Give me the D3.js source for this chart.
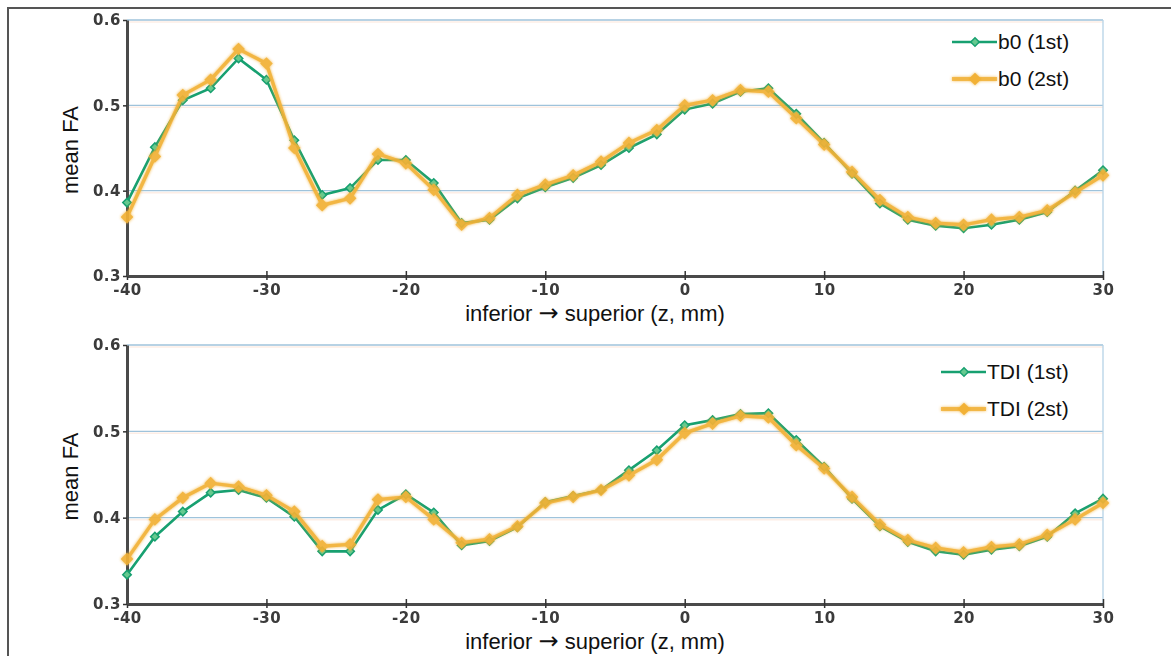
<!DOCTYPE html>
<html>
<head>
	<meta charset="utf-8">
	<script src="https://cdn.jsdelivr.net/npm/d3@7/dist/d3.min.js"></script>
	<style>
		html, body {
			padding: 0;
			margin: 0;
			background: white;
		}
		.tick-label {
			font: bold 15px "DejaVu Sans", sans-serif;
			letter-spacing: 0.5px;
			fill: #3a3a3a;
		}
		.title {
			font: 21px "Liberation Sans", Arial, sans-serif;
			fill: #111;
		}
		.axis-title {
			font-size: 22px;
		}
		.arrow {
			font-family: "DejaVu Sans", sans-serif;
			font-size: 24px;
		}
	</style>
</head>
<body>
	<div id="chart"></div>

	<script>
		// slice position, every 2 mm
		var zValues = [-40, -38, -36, -34, -32, -30, -28, -26, -24, -22, -20, -18,
			-16, -14, -12, -10, -8, -6, -4, -2, 0, 2, 4, 6, 8, 10, 12, 14, 16, 18,
			20, 22, 24, 26, 28, 30];

		var b0First = [0.386, 0.451, 0.506, 0.520, 0.555, 0.530, 0.459, 0.395, 0.403, 0.436, 0.436, 0.409,
			0.362, 0.366, 0.391, 0.404, 0.415, 0.430, 0.450, 0.466, 0.495, 0.502, 0.516, 0.520, 0.490, 0.456,
			0.420, 0.385, 0.366, 0.359, 0.356, 0.360, 0.366, 0.375, 0.400, 0.424];
		var b0Second = [0.369, 0.440, 0.512, 0.530, 0.566, 0.549, 0.450, 0.383, 0.391, 0.443, 0.432, 0.401,
			0.360, 0.368, 0.395, 0.407, 0.418, 0.434, 0.456, 0.471, 0.500, 0.506, 0.518, 0.516, 0.485, 0.454,
			0.422, 0.389, 0.369, 0.362, 0.360, 0.366, 0.369, 0.377, 0.398, 0.418];

		var tdiFirst = [0.334, 0.378, 0.407, 0.429, 0.432, 0.423, 0.401, 0.361, 0.361, 0.409, 0.427, 0.406,
			0.368, 0.373, 0.389, 0.418, 0.425, 0.432, 0.455, 0.478, 0.507, 0.513, 0.520, 0.521, 0.490, 0.459,
			0.422, 0.390, 0.372, 0.361, 0.357, 0.363, 0.367, 0.378, 0.405, 0.422];
		var tdiSecond = [0.352, 0.398, 0.423, 0.440, 0.436, 0.426, 0.407, 0.367, 0.369, 0.421, 0.424, 0.398,
			0.371, 0.375, 0.390, 0.417, 0.424, 0.432, 0.449, 0.467, 0.498, 0.509, 0.518, 0.516, 0.484, 0.457,
			0.424, 0.392, 0.374, 0.365, 0.360, 0.366, 0.369, 0.380, 0.398, 0.417];

		var xTicks = [-40, -30, -20, -10, 0, 10, 20, 30];
		var yTicks = [0.3, 0.4, 0.5, 0.6];
		var xTitle = ["inferior ", "→", " superior (z, mm)"];
		var yTitle = "mean FA";

		var width = 1171, height = 656;
		var green = "#17a070", greenFill = "#66c98f", orange = "#f2b136";

		var svg = d3.select("#chart").append("svg")
			.attr("width", width)
			.attr("height", height);

		var defs = svg.append("defs");
		var glow = defs.append("filter").attr("id", "glow")
			.attr("x", "-20%").attr("y", "-20%").attr("width", "140%").attr("height", "140%");
		glow.append("feGaussianBlur").attr("in", "SourceGraphic").attr("stdDeviation", 1.6).attr("result", "b");
		var fm = glow.append("feMerge");
		fm.append("feMergeNode").attr("in", "b");
		fm.append("feMergeNode").attr("in", "SourceGraphic");

		var soft = defs.append("filter").attr("id", "soft");
		soft.append("feGaussianBlur").attr("stdDeviation", 0.5);

		// page frame: top and left only
		svg.append("path")
			.attr("d", "M8,656 L8,8 L1171,8")
			.attr("fill", "none")
			.attr("stroke", "#555")
			.attr("stroke-width", 2);

		var x = d3.scaleLinear().domain([-40, 30]).range([127, 1103]);

		// rotated square, like the original markers
		var diamond = d3.symbol().type(d3.symbolSquare);
		function place(cx, cy) { return "translate(" + cx + "," + cy + ") rotate(45)"; }

		function panel(top, bottom, first, second, names, legendX, legendY) {
			var y = d3.scaleLinear().domain([0.3, 0.6]).range([bottom, top]);
			var g = svg.append("g");

			// grid
			g.selectAll(".gs").data(yTicks.slice(1)).enter().append("line")
				.attr("x1", x(-40)).attr("x2", x(30))
				.attr("y1", function(d) { return y(d) + 2; })
				.attr("y2", function(d) { return y(d) + 2; })
				.attr("stroke", "#fdeee6").attr("stroke-width", 1.5);
			g.selectAll(".gl").data(yTicks.slice(1)).enter().append("line")
				.attr("x1", x(-40)).attr("x2", x(30))
				.attr("y1", function(d) { return y(d); })
				.attr("y2", function(d) { return y(d); })
				.attr("stroke", "#9fc3db").attr("stroke-width", 1.4);
			g.append("line")
				.attr("x1", x(30)).attr("x2", x(30))
				.attr("y1", y(0.6)).attr("y2", y(0.3))
				.attr("stroke", "#b5d3e6").attr("stroke-width", 1.3);

			// axes
			var xAxis = d3.axisBottom(x).tickValues(xTicks).tickSize(4).tickSizeOuter(0)
				.tickFormat(function(d) { return String(d); });
			var gx = g.append("g").attr("transform", "translate(0," + bottom + ")").call(xAxis);
			gx.select(".domain").attr("stroke", "#4a4a4a").attr("stroke-width", 3);
			gx.selectAll(".tick line").attr("stroke", "#333").attr("stroke-width", 1.5).attr("y1", -5);
			gx.selectAll(".tick text").attr("class", "tick-label").attr("y", 7).attr("dy", "0.8em")
				.attr("filter", "url(#soft)");

			var yAxis = d3.axisLeft(y).tickValues(yTicks).tickSize(4).tickSizeOuter(0)
				.tickFormat(d3.format(".1f"));
			var gy = g.append("g").attr("transform", "translate(" + x(-40) + ",0)").call(yAxis);
			gy.select(".domain").attr("stroke", "#4a4a4a").attr("stroke-width", 3);
			gy.selectAll(".tick line").attr("stroke", "#333").attr("stroke-width", 1.5);
			gy.selectAll(".tick text").attr("class", "tick-label").attr("x", -6)
				.attr("filter", "url(#soft)");

			// titles
			var xt = g.append("text").attr("class", "title axis-title")
				.attr("x", 595).attr("y", bottom + 45)
				.attr("text-anchor", "middle");
			xt.selectAll("tspan").data(xTitle).enter().append("tspan")
				.attr("class", function(d, i) { return i === 1 ? "arrow" : null; })
				.text(function(d) { return d; });
			g.append("text").attr("class", "title axis-title")
				.attr("transform", "translate(78," + ((top + bottom) / 2 + 2) + ") rotate(-90)")
				.attr("text-anchor", "middle").text(yTitle);

			var line = d3.line()
				.x(function(d) { return x(d[0]); })
				.y(function(d) { return y(d[1]); });

			var s1 = d3.zip(zValues, first), s2 = d3.zip(zValues, second);

			// 1st run, green
			g.append("path").datum(s1)
				.attr("d", line).attr("fill", "none")
				.attr("stroke", green).attr("stroke-width", 2.6);
			g.selectAll(".m1").data(s1).enter().append("path")
				.attr("d", diamond.size(36))
				.attr("transform", function(d) { return place(x(d[0]), y(d[1])); })
				.attr("fill", greenFill).attr("stroke", green).attr("stroke-width", 1.5);

			// 2nd run, orange with glow
			var og = g.append("g").attr("filter", "url(#glow)").attr("opacity", 0.93);
			og.append("path").datum(s2)
				.attr("d", line).attr("fill", "none")
				.attr("stroke", orange).attr("stroke-width", 3.4);
			og.selectAll(".m2").data(s2).enter().append("path")
				.attr("d", diamond.size(80))
				.attr("transform", function(d) { return place(x(d[0]), y(d[1])); })
				.attr("fill", orange);

			// legend
			var lg = g.append("g");
			lg.append("line").attr("x1", legendX).attr("x2", legendX + 45)
				.attr("y1", legendY).attr("y2", legendY)
				.attr("stroke", green).attr("stroke-width", 2.6);
			lg.append("path").attr("d", diamond.size(36))
				.attr("transform", place(legendX + 23, legendY))
				.attr("fill", greenFill).attr("stroke", green).attr("stroke-width", 1.5);
			var lo = lg.append("g").attr("filter", "url(#glow)");
			lo.append("line").attr("x1", legendX).attr("x2", legendX + 45)
				.attr("y1", legendY + 37).attr("y2", legendY + 37)
				.attr("stroke", orange).attr("stroke-width", 4).attr("opacity", 0.8);
			lo.append("path").attr("d", diamond.size(80))
				.attr("transform", place(legendX + 23, legendY + 37))
				.attr("fill", orange);
			lg.append("text").attr("class", "title").attr("x", legendX + 46).attr("y", legendY + 7)
				.text(names[0]);
			lg.append("text").attr("class", "title").attr("x", legendX + 46).attr("y", legendY + 44)
				.text(names[1]);
		}

		panel(20, 276, b0First, b0Second, ["b0 (1st)", "b0 (2st)"], 952, 42);
		panel(345, 604, tdiFirst, tdiSecond, ["TDI (1st)", "TDI (2st)"], 941, 372);
	</script>
</body>
</html>
